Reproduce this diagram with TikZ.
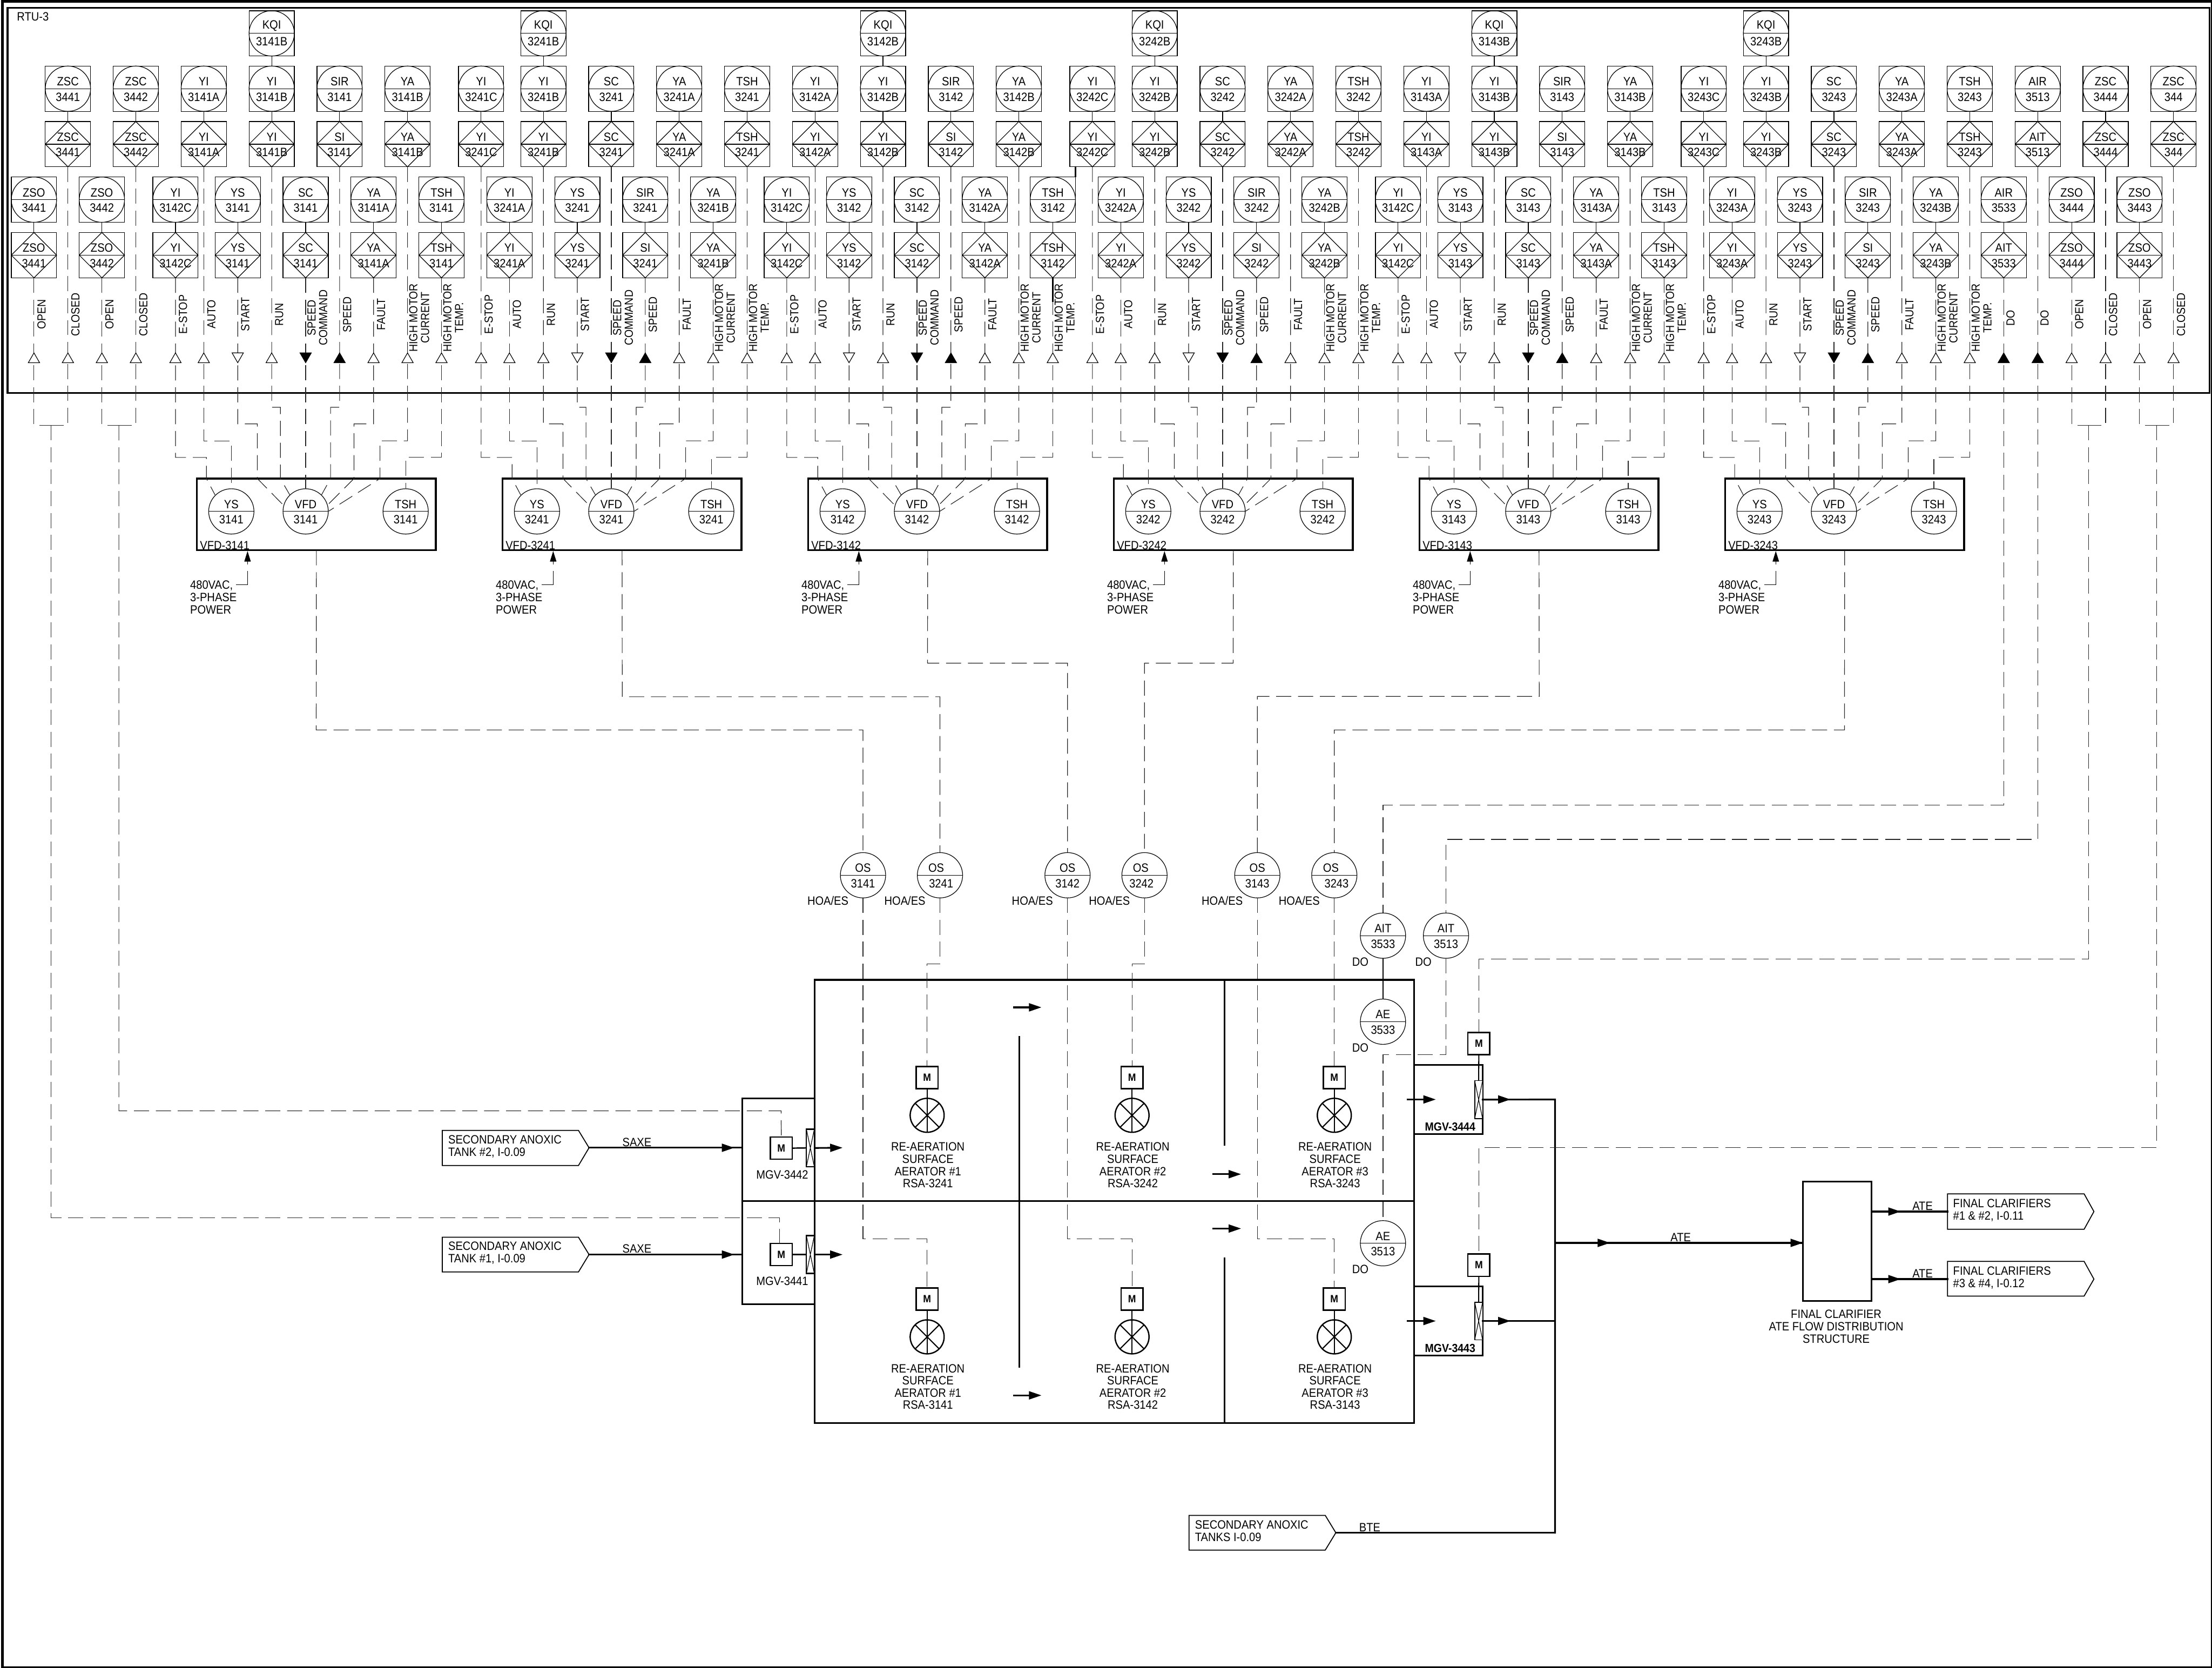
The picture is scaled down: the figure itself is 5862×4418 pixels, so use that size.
\documentclass[tikz,border=0pt]{standalone}
\usepackage{fontspec}
\setmainfont[FakeStretch=0.9]{Liberation Sans}
\usetikzlibrary{shapes.geometric,arrows.meta}
\tikzset{
  x=1pt,y=-1pt,
  lnthin/.style={line width=1.7pt,draw=black},
  lnthick/.style={line width=4.5pt,draw=black,line cap=rect},
  sig/.style={line width=1.7pt,draw=black!85,dash pattern=on 40pt off 18pt},
  instsq/.style={rectangle,draw,line width=1.7pt,minimum size=120pt,inner sep=0pt,outer sep=0pt},
  instcirc/.style={circle,draw,line width=1.7pt,minimum size=120pt,inner sep=0pt,outer sep=0pt},
  instdia/.style={diamond,draw,line width=1.7pt,minimum size=120pt,inner sep=0pt,outer sep=0pt},
  txt/.style={inner sep=0pt,outer sep=0pt,font=\fontsize{32}{33}\selectfont},
  txtl/.style={txt,align=left,anchor=west},
  txtc/.style={txt,align=center},
  vlab/.style={txt,rotate=90,align=center,font=\fontsize{31}{31}\selectfont},
  vfdbox/.style={rectangle,draw,line width=4.5pt,minimum width=633pt,minimum height=190pt,inner sep=0pt,outer sep=0pt},
  motor/.style={rectangle,draw,line width=3.5pt,minimum width=58pt,minimum height=59pt,inner sep=0pt,outer sep=0pt,font=\fontsize{28}{30}\selectfont\bfseries},
  aer/.style={circle,draw,line width=3.5pt,minimum size=90pt,inner sep=0pt,outer sep=0pt},
  flowtip/.style={line width=4.5pt,draw=black,-{Triangle[length=33pt,width=21pt]}},
  powtip/.style={line width=1.7pt,draw=black,-{Triangle[length=28pt,width=17pt]}},
  valve/.style={rectangle,draw,line width=3.5pt,fill=white,inner sep=0pt,outer sep=0pt},
}
% instrument pair: circle over diamond
\newcommand{\Inst}[6]{%
  \node[instsq] (q#1) at (#2,#3+60) {};
  \node[instcirc] (c#1) at (#2,#3+60) {};
  \draw[lnthin] (c#1.west) -- (c#1.east);
  \node[txt] (ct#1) at (#2,#3+41) {#4};
  \node[txt] (cn#1) at (#2,#3+82) {#6};
  \node[instsq] (p#1) at (#2,#3+207) {};
  \node[instdia] (d#1) at (#2,#3+207) {};
  \draw[lnthin] (d#1.west) -- (d#1.east);
  \node[txt] (dt#1) at (#2,#3+188) {#5};
  \node[txt] (dn#1) at (#2,#3+229) {#6};
  \draw[lnthin] (c#1.south) -- (d#1.north);
}
\newcommand{\Kqi}[3]{%
  \node[instsq] (qk#1) at (#2,88.5) {};
  \node[instcirc] (ck#1) at (#2,88.5) {};
  \draw[lnthin] (ck#1.west) -- (ck#1.east);
  \node[txt] (kt#1) at (#2,69) {KQI};
  \node[txt] (kn#1) at (#2,110) {#3};
  \draw[lnthin] (ck#1.south) -- (c#1.north);
}
% general circle with tag
\newcommand{\CirOff}[7]{%
  \node[instcirc] (#1) at (#2,#3) {};
  \draw[lnthin] (#1.west) -- (#1.east);
  \node[txt] (#1t) at (#2+#6,#3-19) {#4};
  \node[txt] (#1n) at (#2+#7,#3+22) {#5};
}
\newcommand{\Cir}[5]{\CirOff{#1}{#2}{#3}{#4}{#5}{0}{0}}
% triangles
\newcommand{\TriU}[1]{\draw[lnthin,fill=white] (#1-15,961) -- (#1,935) -- (#1+15,961) -- cycle;}
\newcommand{\TriD}[1]{\draw[lnthin,fill=white] (#1-15,935) -- (#1,961) -- (#1+15,935) -- cycle;}
\newcommand{\TriUF}[1]{\draw[lnthin,fill=black] (#1-15,961) -- (#1,935) -- (#1+15,961) -- cycle;}
\newcommand{\TriDF}[1]{\draw[lnthin,fill=black] (#1-15,935) -- (#1,961) -- (#1+15,935) -- cycle;}
% signal labels
\newcommand{\Sl}[3]{\node[vlab] (sl#1) at (#2+20,833) {#3};}
\newcommand{\Sll}[3]{\node[vlab] (sl#1) at (#2+31,842) {#3};}
\newcommand{\Common}[4]{%
  \Sl{#1a}{465+#2}{E-STOP}
  \Sl{#1b}{540+#2}{AUTO}
  \Sl{#1c}{630+#2}{#3}
  \Sl{#1d}{720+#2}{#4}
  \Sll{#1e}{810+#2}{SPEED\\COMMAND}
  \Sl{#1f}{900+#2}{SPEED}
  \Sl{#1g}{990+#2}{FAULT}
  \Sll{#1h}{1080+#2}{HIGH MOTOR\\CURRENT}
  \Sll{#1i}{1170+#2}{HIGH MOTOR\\TEMP.}
}
% VFD cabinet with its field wiring
\newcommand{\Vfd}[3]{%
  \node[vfdbox] (box#1) at (838.5+#2,1363) {};
  \node[txtl] (vl#1) at (530+#2,1445) {VFD-#3};
  \Cir{ys#1}{613+#2}{1355}{YS}{#3}
  \Cir{vf#1}{810+#2}{1355}{VFD}{#3}
  \Cir{ts#1}{1075+#2}{1355}{TSH}{#3}
  \draw[sig] (d#1a.south) -- (465+#2,1212) -- (547+#2,1212) -- (547+#2,1268) -- (ys#1.135);
  \draw[sig] (d#1b.south) -- (540+#2,1168) -- (613+#2,1168) -- (ys#1.north);
  \draw[sig] (d#1c.south) -- (630+#2,1123) -- (682+#2,1123) -- (682+#2,1268) -- (vf#1.165);
  \draw[sig] (d#1d.south) -- (720+#2,1079) -- (743+#2,1079) -- (743+#2,1268) -- (vf#1.134);
  \draw[sig] (d#1e.south) -- (vf#1.north);
  \draw[sig] (d#1f.south) -- (900+#2,1079) -- (876+#2,1079) -- (876+#2,1268) -- (vf#1.46);
  \draw[sig] (d#1g.south) -- (990+#2,1123) -- (938+#2,1123) -- (938+#2,1268) -- (vf#1.16);
  \draw[sig] (d#1h.south) -- (1080+#2,1168) -- (1007+#2,1168) -- (1007+#2,1268) -- (vf#1.east);
  \draw[sig] (d#1i.south) -- (1170+#2,1212) -- (1075+#2,1212) -- (ts#1.north);
  \TriU{465+#2}\TriU{540+#2}
  \TriDF{810+#2}\TriUF{900+#2}
  \TriU{990+#2}\TriU{1080+#2}\TriU{1170+#2}
  \node[txtl] (pw#1) at (504+#2,1582) {480VAC,\\3-PHASE\\POWER};
  \coordinate (pwa#1) at (626+#2,1549);
  \coordinate (pwb#1) at (656+#2,1512);
  \coordinate (pwc#1) at (656+#2,1495);
  \coordinate (pwd#1) at (656+#2,1460);
  \draw[lnthin] (pwa#1) -| (pwb#1);
  \draw[powtip] (pwc#1) -- (pwd#1);
}
\newcommand{\GroupOdd}[4]{%
  \Inst{#1a}{465+#2}{469}{YI}{YI}{#4}
  \Inst{#1b}{540+#2}{175}{YI}{YI}{#3A}
  \Inst{#1c}{630+#2}{469}{YS}{YS}{#3}
  \Inst{#1d}{720+#2}{175}{YI}{YI}{#3B}
  \Kqi{#1d}{720+#2}{#3B}
  \Inst{#1e}{810+#2}{469}{SC}{SC}{#3}
  \Inst{#1f}{900+#2}{175}{SIR}{SI}{#3}
  \Inst{#1g}{990+#2}{469}{YA}{YA}{#3A}
  \Inst{#1h}{1080+#2}{175}{YA}{YA}{#3B}
  \Inst{#1i}{1170+#2}{469}{TSH}{TSH}{#3}
  \Common{#1}{#2}{START}{RUN}
  \Vfd{#1}{#2}{#3}
  \TriD{630+#2}\TriU{720+#2}
}
\newcommand{\GroupEven}[4]{%
  \Inst{#1a}{465+#2}{175}{YI}{YI}{#4}
  \Inst{#1b}{540+#2}{469}{YI}{YI}{#3A}
  \Inst{#1c}{630+#2}{175}{YI}{YI}{#3B}
  \Kqi{#1c}{630+#2}{#3B}
  \Inst{#1d}{720+#2}{469}{YS}{YS}{#3}
  \Inst{#1e}{810+#2}{175}{SC}{SC}{#3}
  \Inst{#1f}{900+#2}{469}{SIR}{SI}{#3}
  \Inst{#1g}{990+#2}{175}{YA}{YA}{#3A}
  \Inst{#1h}{1080+#2}{469}{YA}{YA}{#3B}
  \Inst{#1i}{1170+#2}{175}{TSH}{TSH}{#3}
  \Common{#1}{#2}{RUN}{START}
  \Vfd{#1}{#2}{#3}
  \TriU{630+#2}\TriD{720+#2}
}
% aerator: #1 id, #2 x, #3 motor centre y, #4 #n, #5 RSA
\newcommand{\Aerator}[5]{%
  \node[motor] (m#1) at (#2,#3) {M};
  \node[aer] (a#1) at (#2,#3+100) {};
  \draw[line width=3pt] (m#1.south) -- (a#1.north);
  \draw[line width=3pt] (a#1.north) -- (a#1.south);
  \draw[line width=3pt] (a#1.45) -- (a#1.225);
  \draw[line width=3pt] (a#1.135) -- (a#1.315);
  \node[txtc,font=\fontsize{32}{32.3}\selectfont] (at#1) at (#2+2,#3+232) {RE-AERATION\\SURFACE\\AERATOR \##4\\RSA-#5};
}
\begin{document}
\begin{tikzpicture}
\useasboundingbox (0,0) rectangle (5862,4418);
% sheet and RTU frames
\draw[line width=7pt] (6.5,3.5) rectangle (5862,4418);
\draw[line width=4.5pt] (20,21) rectangle (5855,1041);
\node[txtl] (rtu) at (45,44) {RTU-3};

% left group
\Inst{z1}{90}{469}{ZSO}{ZSO}{3441}
\Inst{z2}{180}{175}{ZSC}{ZSC}{3441}
\Inst{z3}{270}{469}{ZSO}{ZSO}{3442}
\Inst{z4}{360}{175}{ZSC}{ZSC}{3442}
\Sl{z1}{90}{OPEN}\Sl{z2}{180}{CLOSED}\Sl{z3}{270}{OPEN}\Sl{z4}{360}{CLOSED}

% six drive groups
\GroupOdd{A}{0}{3141}{3142C}
\GroupEven{B}{810}{3241}{3241C}
\GroupOdd{C}{1620}{3142}{3142C}
\GroupEven{D}{2430}{3242}{3242C}
\GroupOdd{E}{3240}{3143}{3142C}
\GroupEven{F}{4050}{3243}{3243C}

% right group
\Inst{r1}{5310}{469}{AIR}{AIT}{3533}
\Inst{r2}{5400}{175}{AIR}{AIT}{3513}
\Inst{r3}{5490}{469}{ZSO}{ZSO}{3444}
\Inst{r4}{5580}{175}{ZSC}{ZSC}{3444}
\Inst{r5}{5670}{469}{ZSO}{ZSO}{3443}
\Inst{r6}{5760}{175}{ZSC}{ZSC}{344\hspace{20pt}}
\node[vlab] (slr1) at (5328,843) {DO};
\node[vlab] (slr2) at (5418,843) {DO};
\Sl{r3}{5490}{OPEN}\Sl{r4}{5580}{CLOSED}\Sl{r5}{5670}{OPEN}\Sl{r6}{5760}{CLOSED}

% stray heavier lines in the drawing
\draw[line width=3.5pt] (2850,442) -- (2850,469);
\draw[line width=4pt] (dCi.south) -- (2790,800);

% tanks
\draw[lnthick] (2159,2596) rectangle (3747,3770);
\draw[line width=5pt] (1967,3182) -- (3747,3182);
\draw[lnthick] (2159,2910) -- (1967,2910) -- (1967,3455) -- (2159,3455);
\draw[lnthick,line cap=butt] (2701,2745) -- (2701,3623);
\draw[lnthick,line cap=butt] (3245,2596) -- (3245,3035);
\draw[lnthick,line cap=butt] (3245,3331) -- (3245,3770);
\draw[flowtip] (2685,2669) -- (2760,2669);
\draw[flowtip] (3213,3111) -- (3289,3111);
\draw[flowtip] (3213,3255) -- (3289,3255);
\draw[flowtip] (2685,3697) -- (2760,3697);

% aerators
\Aerator{u1}{2457}{2855}{1}{3241}
\Aerator{u2}{3000}{2855}{2}{3242}
\Aerator{u3}{3536}{2855}{3}{3243}
\Aerator{l1}{2457}{3442}{1}{3141}
\Aerator{l2}{3000}{3442}{2}{3142}
\Aerator{l3}{3536}{3442}{3}{3143}

% operator stations
\Cir{osa}{2287}{2319}{OS}{3141}
\CirOff{osb}{2491}{2319}{OS}{3241}{-10}{3}
\Cir{osc}{2829}{2319}{OS}{3142}
\CirOff{osd}{3033}{2319}{OS}{3242}{-10}{-8}
\Cir{ose}{3332}{2319}{OS}{3143}
\CirOff{osf}{3536}{2319}{OS}{3243}{-9}{6}
\node[txt] (hoa) at (2194,2387) {HOA/ES};
\node[txt] (hob) at (2398,2387) {HOA/ES};
\node[txt] (hoc) at (2736,2387) {HOA/ES};
\node[txt] (hod) at (2940,2387) {HOA/ES};
\node[txt] (hoe) at (3239,2387) {HOA/ES};
\node[txt] (hof) at (3443,2387) {HOA/ES};

\draw[sig] (boxA.south) -- (838,1934) -- (2287,1934) -- (osa.north);
\draw[sig] (boxB.south) -- (1649,1846) -- (2491,1846) -- (osb.north);
\draw[sig] (boxC.south) -- (2458,1757) -- (2829,1757) -- (osc.north);
\draw[sig] (boxD.south) -- (3268,1757) -- (3033,1757) -- (osd.north);
\draw[sig] (boxE.south) -- (4079,1845) -- (3332,1845) -- (ose.north);
\draw[sig] (boxF.south) -- (4888,1934) -- (3536,1934) -- (osf.north);

\draw[sig] (osa.south) -- (2287,3282) -- (2457,3282) -- (ml1.north);
\draw[sig] (osb.south) -- (2491,2554) -- (2457,2554) -- (mu1.north);
\draw[sig] (osc.south) -- (2829,3282) -- (3000,3282) -- (ml2.north);
\draw[sig] (osd.south) -- (3033,2554) -- (3000,2554) -- (mu2.north);
\draw[sig] (ose.south) -- (3332,3282) -- (3536,3282) -- (ml3.north);
\draw[sig] (osf.south) -- (mu3.north);

% analysers
\Cir{aita}{3665}{2479}{AIT}{3533}
\Cir{aitb}{3832}{2479}{AIT}{3513}
\Cir{aea}{3665}{2707}{AE}{3533}
\Cir{aeb}{3665}{3294}{AE}{3513}
\node[txt] (doa) at (3605,2549) {DO};
\node[txt] (dob) at (3772,2549) {DO};
\node[txt] (doc) at (3605,2776) {DO};
\node[txt] (dod) at (3605,3363) {DO};
\draw[sig] (dr1.south) -- (5310,2133) -- (3665,2133) -- (aita.north);
\draw[sig] (dr2.south) -- (5400,2224) -- (3832,2224) -- (aitb.north);
\draw[lnthin] (aita.south) -- (aea.north);
\draw[sig] (aitb.south) -- (3832,2794) -- (3665,2794) -- (aeb.north);
\TriUF{5310}\TriUF{5400}

% left inlets and gates
\node[motor] (mg2) at (2070.5,3042) {M};
\node[motor] (mg1) at (2070.5,3324) {M};
\node[valve,minimum width=21pt,minimum height=99pt] (vg2) at (2147.5,3041.5) {};
\node[valve,minimum width=21pt,minimum height=100pt] (vg1) at (2147.5,3324) {};
\draw[lnthin] (vg2.north west) -- (vg2.south east) (vg2.north east) -- (vg2.south west);
\draw[lnthin] (vg1.north west) -- (vg1.south east) (vg1.north east) -- (vg1.south west);
\draw[line width=3.5pt] (mg2.east) -- (vg2.west);
\draw[line width=3.5pt] (mg1.east) -- (vg1.west);
\draw[flowtip] (vg2.east) -- (2233,3041);
\draw[flowtip] (vg1.east) -- (2233,3324);
\node[txt] (mgvb) at (2073,3113) {MGV-3442};
\node[txt] (mgva) at (2073,3395) {MGV-3441};

\draw[line width=2.5pt] (1172,2995) -- (1533,2995) -- (1561,3041) -- (1533,3088) -- (1172,3088) -- cycle;
\draw[line width=2.5pt] (1172,3278) -- (1533,3278) -- (1561,3324) -- (1533,3370) -- (1172,3370) -- cycle;
\coordinate (tipb) at (1561,3041);
\coordinate (tipa) at (1561,3324);
\node[txtl] (tagb) at (1188,3038) {SECONDARY ANOXIC\\TANK \#2, I-0.09};
\node[txtl] (taga) at (1188,3320) {SECONDARY ANOXIC\\TANK \#1, I-0.09};
\node[txt] (saxb) at (1688,3027) {SAXE};
\node[txt] (saxa) at (1688,3308) {SAXE};
\coordinate (inb) at (1967,3041);
\coordinate (ina) at (1967,3324);
\draw[lnthick] (tipb) -- (inb);
\draw[lnthick] (tipa) -- (ina);
\draw[flowtip] (1860,3041) -- (1946,3041);
\draw[flowtip] (1860,3324) -- (1946,3324);

% left control lines
\coordinate (mla) at (135,1127);
\coordinate (mlb) at (315,1127);
\draw[sig] (dz1.south) -- (90,1127) -- (mla);
\draw[sig] (dz2.south) -- (180,1127) -- (mla);
\draw[sig] (mla) -- (135,3227) -- (2066,3227) -- (2066,3294.5);
\draw[sig] (dz3.south) -- (270,1127) -- (mlb);
\draw[sig] (dz4.south) -- (360,1127) -- (mlb);
\draw[sig] (mlb) -- (315,2943) -- (2070,2943) -- (mg2.north);
\TriU{90}\TriU{180}\TriU{270}\TriU{360}

% right outlets and gates
\draw[lnthick] (3747,2821) -- (3929,2821) -- (3929,3005) -- (3747,3005);
\draw[lnthick] (3747,3408) -- (3929,3408) -- (3929,3592) -- (3747,3592);
\node[motor] (mg4) at (3919,2765) {M};
\node[motor] (mg3) at (3919,3352) {M};
\node[valve,line width=2.5pt,minimum width=21pt,minimum height=101pt] (vg4) at (3918.5,2913.5) {};
\node[valve,line width=2.5pt,minimum width=21pt,minimum height=100pt] (vg3) at (3918.5,3500) {};
\draw[lnthin] (vg4.north west) -- (vg4.south east) (vg4.north east) -- (vg4.south west);
\draw[lnthin] (vg3.north west) -- (vg3.south east) (vg3.north east) -- (vg3.south west);
\draw[line width=3pt] (mg4.south) -- (vg4.north);
\draw[line width=3pt] (mg3.south) -- (vg3.north);
\node[txt,font=\fontsize{31}{32}\selectfont\bfseries] (mgvd) at (3843,2986) {MGV-3444};
\node[txt,font=\fontsize{31}{32}\selectfont\bfseries] (mgvc) at (3843,3572) {MGV-3443};
\draw[flowtip] (3728,2913) -- (3805,2913);
\draw[flowtip] (3728,3500) -- (3805,3500);
\coordinate (hdr) at (4121,3293);
\coordinate (hdrt) at (4121,2913);
\coordinate (hdrb) at (4121,4061);
\coordinate (hdrm) at (4121,3500);
\draw[lnthick] (vg4.east) -- (hdrt) -- (hdrb);
\draw[lnthick] (vg3.east) -- (hdrm);
\draw[flowtip] (3950,2913) -- (4003,2913);
\draw[flowtip] (3950,3500) -- (4003,3500);

% BTE inlet
\draw[line width=2.5pt] (3151,4015) -- (3512,4015) -- (3540,4061) -- (3512,4107) -- (3151,4107) -- cycle;
\coordinate (tipc) at (3540,4061);
\node[txtl] (tagc) at (3167,4056) {SECONDARY ANOXIC\\TANKS I-0.09};
\node[txt] (bte) at (3630,4047) {BTE};
\draw[lnthick] (tipc) -- (hdrb);

% distribution structure
\node[rectangle,draw,line width=4.5pt,minimum width=181pt,minimum height=317pt,inner sep=0pt,outer sep=0pt] (dist) at (4868.5,3288.5) {};
\node[txtc] (distt) at (4866,3515) {FINAL CLARIFIER\\ATE FLOW DISTRIBUTION\\STRUCTURE};
\draw[lnthick] (hdr) -- (dist.west |- hdr);
\draw[flowtip] (4180,3293) -- (4267,3293);
\draw[flowtip] (4690,3293) -- (dist.west |- hdr);
\node[txt] (atea) at (4454,3278) {ATE};
\coordinate (oc) at (5161,3210);
\coordinate (od) at (5161,3389);
\draw[lnthick] (dist.east |- oc) -- (oc);
\draw[lnthick] (dist.east |- od) -- (od);
\draw[flowtip] (4975,3210) -- (5037,3210);
\draw[flowtip] (4975,3389) -- (5037,3389);
\node[txt] (ateb) at (5095,3196) {ATE};
\node[txt] (atec) at (5095,3374) {ATE};
\draw[line width=2.5pt] (5161,3163) -- (5523,3163) -- (5549,3210) -- (5523,3257) -- (5161,3257) -- cycle;
\draw[line width=2.5pt] (5161,3342) -- (5523,3342) -- (5549,3389) -- (5523,3434) -- (5161,3434) -- cycle;
\node[txtl] (outa) at (5176,3206) {FINAL CLARIFIERS\\\#1 \& \#2, I-0.11};
\node[txtl] (outb) at (5176,3385) {FINAL CLARIFIERS\\\#3 \& \#4, I-0.12};

% right control lines
\coordinate (mra) at (5535,1127);
\coordinate (mrb) at (5715,1127);
\draw[sig] (dr3.south) -- (5490,1127) -- (mra);
\draw[sig] (dr4.south) -- (5580,1127) -- (mra);
\draw[sig] (mra) -- (5535,2541) -- (3919,2541) -- (mg4.north);
\draw[sig] (dr5.south) -- (5670,1127) -- (mrb);
\draw[sig] (dr6.south) -- (5760,1127) -- (mrb);
\draw[sig] (mrb) -- (5715,3040) -- (3919,3040) -- (mg3.north);
\TriU{5490}\TriU{5580}\TriU{5670}\TriU{5760}
\end{tikzpicture}
\end{document}
